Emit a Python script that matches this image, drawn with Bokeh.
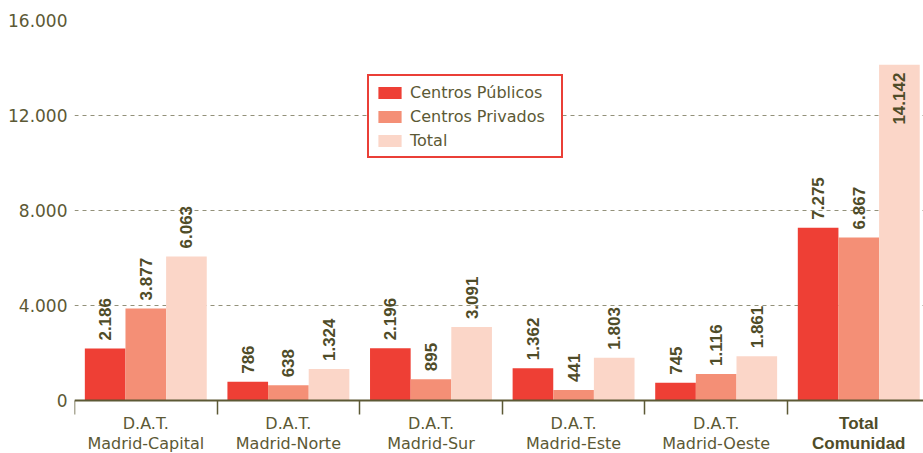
import numpy as np
from bokeh.plotting import figure
from bokeh.models import (ColumnDataSource, Range1d, FixedTicker, Legend, LegendItem)
from bokeh.transform import dodge
from bokeh.core.properties import value
from bokeh.embed import file_html
from bokeh.resources import INLINE

# ---- data ----
cat_line1 = ["D.A.T.", "D.A.T.", "D.A.T.", "D.A.T.", "D.A.T.", "Total"]
cat_line2 = ["Madrid-Capital", "Madrid-Norte", "Madrid-Sur", "Madrid-Este", "Madrid-Oeste", "Comunidad"]
cat_bold = [False, False, False, False, False, True]
publicos = [2186, 786, 2196, 1362, 745, 7275]
privados = [3877, 638, 895, 441, 1116, 6867]
total = [6063, 1324, 3091, 1803, 1861, 14142]
series_names = ["Centros Públicos", "Centros Privados", "Total"]
y_ticks = [0, 4000, 8000, 12000, 16000]
y_tick_labels = ["0", "4.000", "8.000", "12.000", "16.000"]

colors = ["#ee3f35", "#f48f76", "#fbd6c8"]
olive = "#5c5935"
label_col = "#4f4c28"

def fmt(v):
    return f"{v:,}".replace(",", ".")

n = len(cat_line2)
xc = np.arange(n) + 0.5
bw = 0.285
offsets = [-bw, 0.0, bw]

p = figure(width=923, height=453, output_backend="svg", toolbar_location=None,
           x_range=Range1d(0, 5.954), y_range=Range1d(-2232, 16000),
           min_border_left=74, min_border_right=0, min_border_top=20, min_border_bottom=0)
p.outline_line_color = None
p.background_fill_color = "white"

renderers = []
for s_vals, off, col in zip([publicos, privados, total], offsets, colors):
    src = ColumnDataSource(dict(x=xc, top=s_vals))
    r = p.vbar(x=dodge("x", off), top="top", width=bw, source=src,
               fill_color=col, line_color=None)
    renderers.append(r)
    inside = [v > 13000 for v in s_vals]
    out_src = ColumnDataSource(dict(x=[x for x, i in zip(xc, inside) if not i],
                                    y=[v for v, i in zip(s_vals, inside) if not i],
                                    lab=[fmt(v) for v, i in zip(s_vals, inside) if not i]))
    in_src = ColumnDataSource(dict(x=[x for x, i in zip(xc, inside) if i],
                                   y=[v for v, i in zip(s_vals, inside) if i],
                                   lab=[fmt(v) for v, i in zip(s_vals, inside) if i]))
    p.text(x=dodge("x", off), y="y", text="lab", source=out_src, angle=np.pi / 2,
           text_align="left", text_baseline="middle", y_offset=-8,
           text_font=value("Liberation Sans"), text_font_style="bold",
           text_font_size="17px", text_color=label_col)
    p.text(x=dodge("x", off), y="y", text="lab", source=in_src, angle=np.pi / 2,
           text_align="right", text_baseline="middle", y_offset=8,
           text_font=value("Liberation Sans"), text_font_style="bold",
           text_font_size="17px", text_color=label_col)

# x axis drawn at y=0 inside the frame; ticks at category boundaries (minor ticks, no labels)
xa = p.xaxis[0]
xa.fixed_location = 0
xa.ticker = FixedTicker(ticks=[], minor_ticks=list(range(n + 1)))
xa.axis_line_color = olive
xa.axis_line_width = 2
xa.major_tick_line_color = None
xa.minor_tick_line_color = olive
xa.minor_tick_line_width = 1.5
xa.minor_tick_in = 0
xa.minor_tick_out = 14

ya = p.yaxis[0]
ya.ticker = FixedTicker(ticks=y_ticks)
ya.major_label_overrides = {t: l for t, l in zip(y_ticks, y_tick_labels)}
ya.axis_line_color = None
ya.major_tick_line_color = None
ya.minor_tick_line_color = None
ya.major_tick_out = 0
ya.major_tick_in = 0
ya.major_label_standoff = 7
ya.major_label_text_font = "DejaVu Sans"
ya.major_label_text_font_size = "17px"
ya.major_label_text_color = olive

p.xgrid.grid_line_color = None
p.ygrid.ticker = FixedTicker(ticks=[t for t in y_ticks if t > 0])
p.ygrid.grid_line_color = "#93917a"
p.ygrid.grid_line_dash = "4 4"
p.ygrid.grid_line_width = 1

# category labels (two lines), regular and bold
zeros = [0] * n
for bold in (False, True):
    sel = [i for i in range(n) if cat_bold[i] == bold]
    src1 = ColumnDataSource(dict(x=[xc[i] for i in sel], y=[zeros[i] for i in sel],
                                 t=[cat_line1[i] for i in sel]))
    src2 = ColumnDataSource(dict(x=[xc[i] for i in sel], y=[zeros[i] for i in sel],
                                 t=[cat_line2[i] for i in sel]))
    for src, off in [(src1, 23), (src2, 43)]:
        p.text(x="x", y="y", text="t", source=src, y_offset=off,
               text_align="center", text_baseline="middle",
               text_font=value("Liberation Sans" if bold else "DejaVu Sans"),
               text_font_style="bold" if bold else "normal",
               text_font_size="17px" if bold else "16px",
               text_color=label_col if bold else olive)

legend = Legend(items=[LegendItem(label=nm, renderers=[r]) for nm, r in zip(series_names, renderers)],
                location=(293, 295))
legend.border_line_color = "#ea3f37"
legend.border_line_width = 2
legend.border_line_alpha = 1
legend.background_fill_alpha = 1
legend.padding = 6
legend.spacing = 4
legend.margin = 0
legend.glyph_width = 29
legend.glyph_height = 15
legend.label_height = 20
legend.label_width = 145
legend.label_standoff = 6
legend.label_text_font = "DejaVu Sans"
legend.label_text_font_size = "16px"
legend.label_text_color = olive
p.add_layout(legend, "center")

open("out.html", "w").write(file_html(p, INLINE))
